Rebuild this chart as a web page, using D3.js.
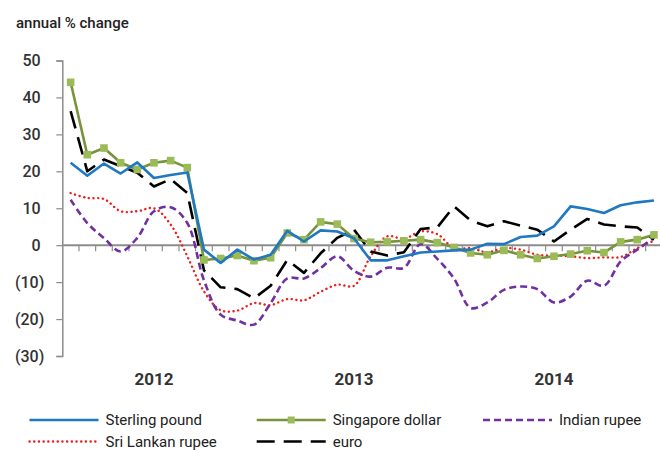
<head><script src="https://d3js.org/d3.v7.min.js"></script></head>

<body style="margin:0;background:#fff">
  <svg id="chart" width="660" height="451"></svg>

  <script>
    // months Jan 2012 .. Dec 2014
    var years = ["2012", "2013", "2014"];
    var months = [];
    years.forEach(function(y){
      for (var m = 1; m <= 12; m++) months.push(y + "-" + (m < 10 ? "0" + m : m));
    });

    var yTicks = [50, 40, 30, 20, 10, 0, -10, -20, -30];

    var sterling = [22.3, 18.8, 22.1, 19.4, 22.4, 18.2, 19.0, 19.7, -1.2, -4.8, -1.2, -3.9,
                    -2.6, 3.9, 1.0, 4.0, 3.7, 1.9, -4.1, -4.1, -3.0, -2.0, -1.7, -1.4,
                    -1.2, 0.4, 0.3, 2.2, 2.6, 5.1, 10.5, 9.8, 8.7, 10.8, 11.6, 12.1];
    var singapore = [44.1, 24.5, 26.3, 22.3, 20.5, 22.3, 22.9, 21.0, -4.0, -3.6, -2.8, -4.2,
                     -3.4, 3.3, 1.5, 6.3, 5.7, 1.8, 0.8, 0.9, 1.2, 1.5, 0.7, -0.6,
                     -2.1, -2.6, -1.4, -2.6, -3.6, -3.0, -2.4, -1.5, -2.0, 0.9, 1.5, 2.8];
    var indian = [12.3, 6.0, 1.9, -1.7, 2.0, 9.2, 10.3, 6.0, -9.5, -18.8, -20.4, -21.5,
                  -15.7, -9.0, -9.0, -6.2, -3.0, -6.9, -8.5, -6.1, -6.1, 0.3, -3.7, -9.0,
                  -17.0, -15.5, -12.1, -11.2, -11.9, -15.5, -13.9, -9.6, -11.0, -4.4, -1.2, 2.0];
    var srilanka = [14.1, 12.8, 12.5, 9.2, 9.2, 10.0, 5.6, -3.0, -12.5, -17.6, -17.7, -15.7,
                    -16.2, -14.6, -14.9, -12.6, -10.7, -11.0, -3.0, 2.4, 1.7, 3.7, 3.0, -0.8,
                    -0.8, -1.9, -0.8, -1.2, -2.6, -2.8, -3.0, -3.5, -3.3, -3.2, -0.8, 1.2];
    var euro = [36.3, 20.0, 23.2, 21.4, 19.6, 15.9, 17.9, 14.1, -6.8, -11.4, -11.9, -14.4,
                -11.0, -4.0, -7.5, -2.2, 2.0, 4.2, -1.7, -2.8, -1.9, 4.4, 4.8, 10.5,
                6.7, 5.1, 6.5, 5.3, 4.2, 1.0, 4.2, 7.1, 5.6, 5.1, 4.8, 1.5];

    var svg = d3.select("#chart");
    var font = "Roboto, 'Noto Sans', sans-serif";

    var x = d3.scaleBand().domain(months).range([62.3, 662.3]);
    var y = d3.scaleLinear().domain([-30, 50]).range([356, 60.5]);

    svg.append("text").attr("x", 16).attr("y", 28)
      .style("font-family", font).style("font-size", "15px").style("font-weight", 500)
      .attr("fill", "#222").text("annual % change");

    // y axis
    var yAxis = d3.axisLeft(y).tickValues(yTicks).tickSize(6).tickPadding(12)
      .tickFormat(function(d){ return d < 0 ? "(" + Math.abs(d) + ")" : d; });
    var gy = svg.append("g").attr("transform", "translate(62.3,0)").call(yAxis);
    gy.select(".domain").attr("stroke", "#8c8c8c").attr("stroke-width", 1.5);
    gy.selectAll(".tick line").attr("stroke", "#8c8c8c").attr("stroke-width", 1.2);
    gy.selectAll(".tick text")
      .attr("dx", function(d){ return d < 0 ? 0 : -3.6; })
      .style("font-family", font).style("font-size", "16px").style("font-weight", 500)
      .attr("fill", "#333");

    // zero line with category ticks
    var gx = svg.append("g");
    gx.selectAll("line.tk").data(months.slice(1)).enter().append("line")
      .attr("x1", function(d){ return x(d); }).attr("x2", function(d){ return x(d); })
      .attr("y1", y(0)).attr("y2", y(0) + 6)
      .attr("stroke", "#8c8c8c").attr("stroke-width", 1.2);
    gx.append("line").attr("x1", 62.3).attr("x2", 662.3).attr("y1", y(0)).attr("y2", y(0))
      .attr("stroke", "#8c8c8c").attr("stroke-width", 2);

    years.forEach(function(yr, k){
      var m = months[5 + 12 * k];
      svg.append("text").attr("x", x(m) + x.bandwidth() / 2).attr("y", 385)
        .attr("text-anchor", "middle")
        .style("font-family", font).style("font-size", "17px").style("font-weight", 700)
        .attr("fill", "#333").text(yr);
    });

    var series = [
      {name: "Sri Lankan rupee", values: srilanka, color: "#f01c1c", width: 2.4, dash: "0.1,4.6", cap: "round", curve: d3.curveCatmullRom},
      {name: "Indian rupee", values: indian, color: "#7030a0", width: 2.6, dash: "7,4", cap: "butt", curve: d3.curveCatmullRom},
      {name: "euro", values: euro, color: "#000", width: 2.6, dash: "18,9", cap: "butt", curve: d3.curveLinear},
      {name: "Singapore dollar", values: singapore, color: "#77933c", width: 2.6, dash: null, cap: "butt", curve: d3.curveLinear, marker: "#9bbb59"},
      {name: "Sterling pound", values: sterling, color: "#1f78c1", width: 2.6, dash: null, cap: "butt", curve: d3.curveLinear}
    ];

    series.forEach(function(s){
      var line = d3.line()
        .x(function(d, i){ return x(months[i]) + x.bandwidth() / 2; })
        .y(function(d){ return y(d); })
        .curve(s.curve);
      svg.append("path").datum(s.values).attr("d", line)
        .attr("fill", "none").attr("stroke", s.color).attr("stroke-width", s.width)
        .attr("stroke-dasharray", s.dash).attr("stroke-linecap", s.cap)
        .attr("stroke-linejoin", "round");
      if (s.marker) {
        svg.selectAll(null).data(s.values).enter().append("rect")
          .attr("x", function(d, i){ return x(months[i]) + x.bandwidth() / 2 - 3.8; })
          .attr("y", function(d){ return y(d) - 3.8; })
          .attr("width", 7.6).attr("height", 7.6).attr("fill", s.marker);
      }
    });

    // legend
    var legend = [
      {name: "Sterling pound", lx: 29.5, row: 0},
      {name: "Singapore dollar", lx: 256.7, row: 0},
      {name: "Indian rupee", lx: 483, row: 0},
      {name: "Sri Lankan rupee", lx: 29.5, row: 1},
      {name: "euro", lx: 256.7, row: 1}
    ];
    legend.forEach(function(l){
      var s = series.filter(function(d){ return d.name === l.name; })[0];
      var ly = 420 + l.row * 21.5;
      var len = l.name === "Sri Lankan rupee" ? 66 : 69;
      svg.append("line").attr("x1", l.lx).attr("x2", l.lx + len).attr("y1", ly).attr("y2", ly)
        .attr("stroke", s.color).attr("stroke-width", s.width)
        .attr("stroke-dasharray", s.dash).attr("stroke-linecap", s.cap);
      if (s.marker) {
        svg.append("rect").attr("x", l.lx + 34.5 - 3.5).attr("y", ly - 3.5)
          .attr("width", 7).attr("height", 7).attr("fill", s.marker);
      }
      svg.append("text").attr("x", l.lx + 76).attr("y", ly + 5.2)
        .style("font-family", font).style("font-size", "15px")
        .attr("fill", "#222").text(l.name);
    });
  </script>
</body>
